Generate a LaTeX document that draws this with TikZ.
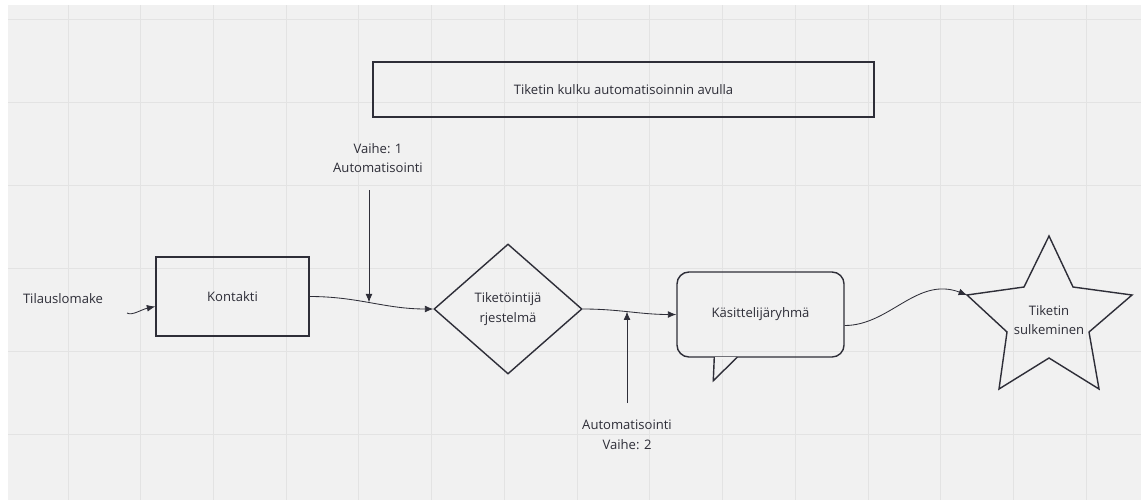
\documentclass[tikz,border=0pt]{standalone}
\usepackage{fontspec}
\setmainfont{Open Sans}
\usetikzlibrary{arrows.meta,shapes.geometric,calc}
\definecolor{bgcol}{HTML}{F1F1F1}
\definecolor{gridcol}{HTML}{E3E3E3}
\definecolor{inkcol}{HTML}{2E2E38}
\begin{document}
\begin{tikzpicture}[x=0.025cm,y=-0.025cm,
    every node/.style={font=\fontsize{9.3}{14}\selectfont,text=inkcol,align=center},
    box/.style={draw=inkcol,line width=1pt},
    conn/.style={draw=inkcol,line width=0.6pt,-{Latex[length=2.1mm,width=1.7mm]}}]
    \useasboundingbox (0,0) rectangle (1141,500);
    \fill[bgcol] (8,5) rectangle (1141,500);
    \foreach \gx in {0,...,14}
      \draw[gridcol,line width=0.7pt] (68+72.73*\gx,5) -- (68+72.73*\gx,500);
    \foreach \gy in {19,102,185,268,351,434}
      \draw[gridcol,line width=0.7pt] (8,\gy) -- (1141,\gy);

    \node[box,minimum width=12.525cm,minimum height=1.375cm] (otsikko) at (623.5,89.5) {Tiketin kulku automatisoinnin avulla};
    \node (tilaus) at (63,299) {Tilauslomake};
    \node[box,minimum width=3.825cm,minimum height=1.975cm] (kontakti) at (232.5,296.5) {Kontakti};
    \node[box,diamond,inner sep=0pt,minimum width=3.7cm,minimum height=3.25cm] (tiketointi) at (508,309) {Tiketöintijä\\rjestelmä};
    \node[box,rounded corners=0.3cm,minimum width=4.175cm,minimum height=2.125cm] (kasittely) at (760.5,314.5) {Käsittelijäryhmä};
    \node (sulku) at (1049,320) {Tiketin\\sulkeminen};
    \node (vaihe1) at (378,158) {Vaihe: 1\\Automatisointi};
    \node (vaihe2) at (627,435) {Automatisointi\\Vaihe: 2};

    \fill[bgcol] ($(kasittely.south west)+(38.5,-1)$) rectangle ($(kasittely.south west)+(60.5,1)$);
    \draw[box,line join=miter] ($(kasittely.south west)+(38,-0.5)$) -- ++(-1,23.5) -- ($(kasittely.south west)+(61,-0.5)$);

    \begin{scope}[shift={(sulku.center)}]
      \draw[box] (0,-84) -- (24,-33) -- (83,-25) -- (40,12) -- (50,69) -- (0,38) -- (-50,69) -- (-42,12) -- (-82,-25) -- (-25,-33) -- cycle;
      \coordinate (sulkuL) at (-82,-25);
    \end{scope}

    \coordinate (lomakeA) at (127,313);
    \draw[conn] (lomakeA) .. controls +(5,3) and +(-14,3) .. ($(kontakti.west)+(0,10)$);
    \draw[conn] (kontakti.east) to[out=0,in=180] coordinate[pos=0.48] (m1) (tiketointi.west);
    \coordinate (pil1) at (369,190);
    \draw[conn] (pil1) -- (pil1 |- m1);
    \draw[conn] (tiketointi.east) to[out=0,in=180] coordinate[pos=0.47] (m2) (kasittely.west);
    \coordinate (pil2) at (627,403);
    \draw[conn] (pil2) -- (pil2 |- m2);
    \draw[conn] ($(kasittely.east)+(0,11)$) .. controls +(45,0) and +(-50,-19) .. (sulkuL);
\end{tikzpicture}
\end{document}
